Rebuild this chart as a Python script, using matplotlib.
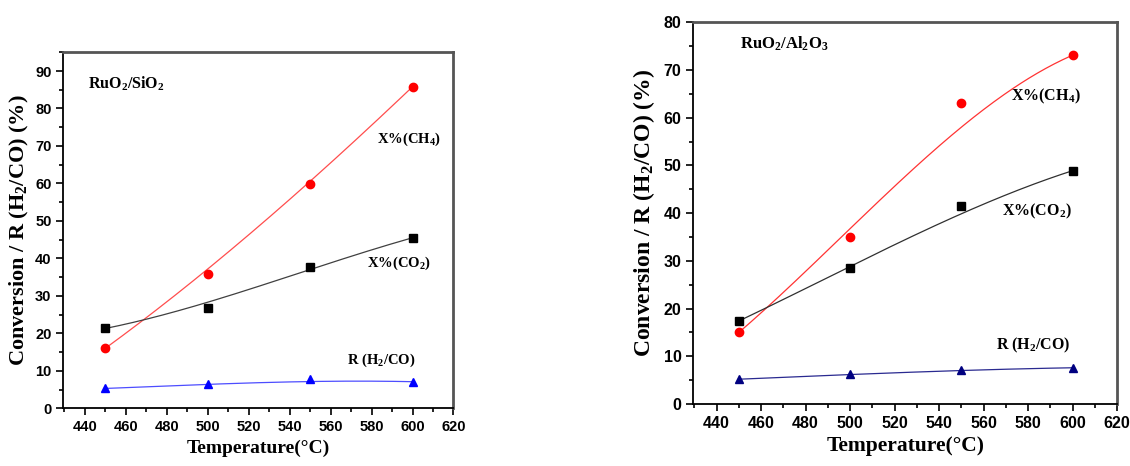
import numpy as np
import matplotlib
matplotlib.use('Agg')
import matplotlib.pyplot as plt
from matplotlib.ticker import MultipleLocator
from math import comb

plt.rcParams['font.family'] = 'Liberation Sans'
plt.rcParams['font.weight'] = 'bold'
plt.rcParams['mathtext.fontset'] = 'custom'
plt.rcParams['mathtext.rm'] = 'Liberation Serif:bold'
plt.rcParams['mathtext.it'] = 'Liberation Serif:bold'
plt.rcParams['mathtext.bf'] = 'Liberation Serif:bold'
plt.rcParams['mathtext.default'] = 'rm'

# data
temps = [450, 500, 550, 600]

sio2_ch4 = [16.0, 35.9, 59.8, 85.8]
sio2_co2 = [21.3, 26.8, 37.8, 45.5]
sio2_ratio = [5.3, 6.4, 7.7, 7.1]

al2o3_ch4 = [15.0, 35.1, 63.0, 73.1]
al2o3_co2 = [17.4, 28.5, 41.4, 48.9]
al2o3_ratio = [5.2, 6.2, 7.2, 7.6]

def bspline(xs, ys, n=200):
    # bezier-type smoothing like Origin's B-spline
    xs = np.asarray(xs, float)
    ys = np.asarray(ys, float)
    k = len(xs) - 1
    t = np.linspace(0, 1, n)
    basis = np.array([comb(k, i) * t**i * (1 - t)**(k - i) for i in range(k + 1)])
    return basis.T @ xs, basis.T @ ys

serif = 'Liberation Serif'

fig = plt.figure(figsize=(11.3, 4.66), dpi=100)

def setup(ax, ymax, tick_fs, xlabel_fs, ylabel_fs, ylabelpad):
    ax.set_xlim(429.5, 620)
    ax.set_ylim(0, ymax)
    ax.xaxis.set_major_locator(MultipleLocator(20))
    ax.xaxis.set_minor_locator(MultipleLocator(10))
    ax.yaxis.set_major_locator(MultipleLocator(10))
    ax.yaxis.set_minor_locator(MultipleLocator(5))
    ax.tick_params(which='both', direction='out', top=False, right=False, width=1.2,
                   labelsize=tick_fs)
    ax.tick_params(which='major', length=5)
    ax.tick_params(which='minor', length=3)
    for s in ['left', 'bottom']:
        ax.spines[s].set_linewidth(1.3)
        ax.spines[s].set_color('black')
    for s in ['top', 'right']:
        ax.spines[s].set_linewidth(2.0)
        ax.spines[s].set_color('#555555')
    ax.set_xlabel('Temperature(°C)', fontfamily=serif, fontweight='bold', fontsize=xlabel_fs)
    ax.set_ylabel('Conversion / R (H$_2$/CO) (%)', fontfamily=serif, fontweight='bold',
                  fontsize=ylabel_fs, labelpad=ylabelpad)

def draw(ax, series, styles):
    for ys, (mk, mc, lc) in zip(series, styles):
        bx, by = bspline(temps, ys)
        ax.plot(bx, by, color=lc, lw=0.9, zorder=2)
        ax.plot(temps, ys, mk, color=mc, ms=6, ls='none', zorder=3)

def note(ax, x, y, s, fs):
    ax.text(x, y, s, fontfamily=serif, fontweight='bold', fontsize=fs, va='center')

# left panel: RuO2/SiO2
ax1 = fig.add_axes([0.056, 0.1238, 0.3453, 0.764])
draw(ax1, [sio2_ch4, sio2_co2, sio2_ratio],
     [('o', '#ff0000', '#ff4d4d'), ('s', 'black', '#404040'), ('^', '#0000ff', '#4d4dff')])
setup(ax1, 95, 10.5, 14, 16, 3)
note(ax1, 441.5, 86.5, 'RuO$_2$/SiO$_2$', 11.5)
note(ax1, 582.5, 71.9, 'X%(CH$_4$)', 10.5)
note(ax1, 578, 38.6, 'X%(CO$_2$)', 10.5)
note(ax1, 567.8, 12.8, 'R (H$_2$/CO)', 10.5)

# right panel: RuO2/Al2O3
ax2 = fig.add_axes([0.6135, 0.1330, 0.3750, 0.8191])
draw(ax2, [al2o3_ch4, al2o3_co2, al2o3_ratio],
     [('o', '#ff0000', '#ff3333'), ('s', 'black', '#303030'), ('^', '#000080', '#2a2a90')])
setup(ax2, 80, 11.5, 15.5, 17, 5)
note(ax2, 450.4, 75.5, 'RuO$_2$/Al$_2$O$_3$', 12)
note(ax2, 572.3, 64.4, 'X%(CH$_4$)', 11.5)
note(ax2, 568.5, 40.4, 'X%(CO$_2$)', 11.5)
note(ax2, 565.4, 12.2, 'R (H$_2$/CO)', 11.5)

fig.savefig('out.png', dpi=100)
